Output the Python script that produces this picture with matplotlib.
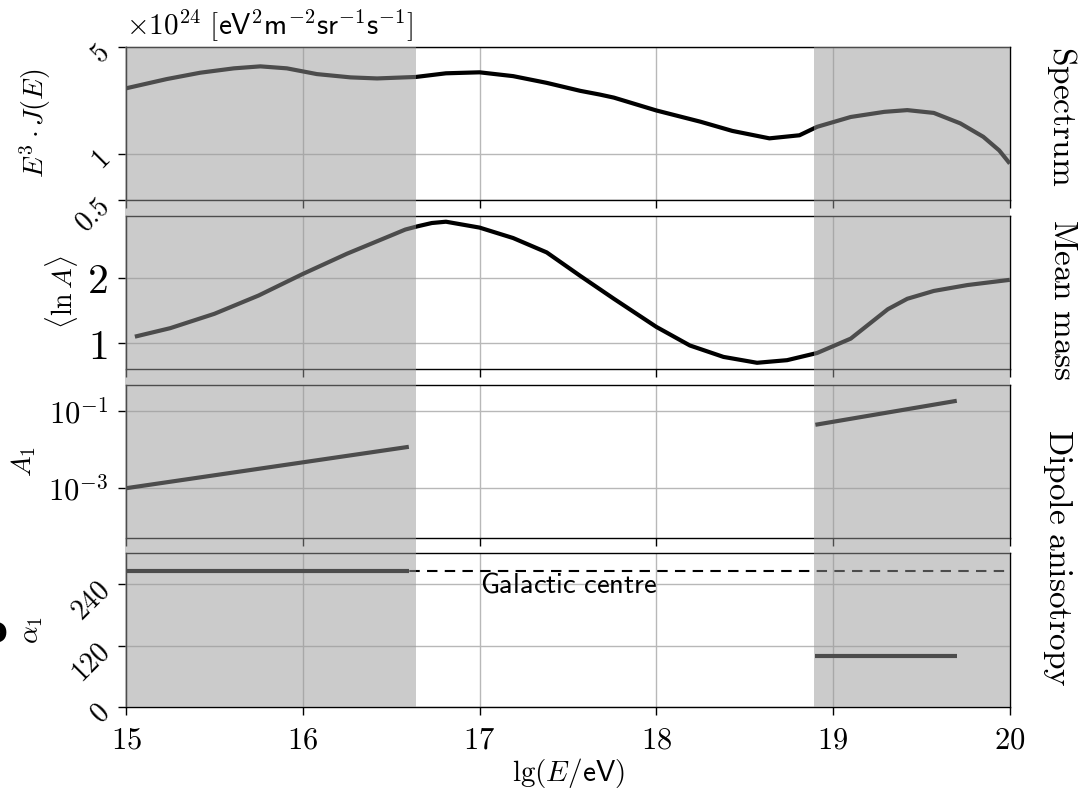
import numpy as np
import matplotlib.pyplot as plt
from matplotlib.patches import Rectangle
from matplotlib.ticker import NullLocator
from matplotlib.transforms import blended_transform_factory

plt.rcParams['mathtext.fontset'] = 'cm'
plt.rcParams['font.family'] = ['Liberation Sans', 'DejaVu Sans']

# =========================
# DATA
# =========================

# Spectrum E^3 J(E) in units of 1e24 eV^2 m^-2 sr^-1 s^-1
spec_lgE = [15.00, 15.23, 15.42, 15.61, 15.76, 15.91, 16.08, 16.27, 16.42, 16.64,
            16.81, 17.00, 17.19, 17.38, 17.57, 17.68, 17.76, 18.00, 18.25, 18.43,
            18.64, 18.81, 18.91, 19.10, 19.29, 19.42, 19.57, 19.72, 19.85, 19.94, 20.00]
spec_val = [2.69, 3.09, 3.40, 3.63, 3.74, 3.63, 3.33, 3.17, 3.12, 3.19,
            3.37, 3.42, 3.23, 2.92, 2.59, 2.45, 2.34, 1.93, 1.63, 1.42,
            1.27, 1.33, 1.51, 1.75, 1.89, 1.94, 1.86, 1.59, 1.30, 1.06, 0.87]

# Mean logarithmic mass <ln A>
lnA_lgE = [15.05, 15.25, 15.50, 15.75, 16.00, 16.25, 16.50, 16.58, 16.65, 16.73,
           16.81, 17.00, 17.19, 17.38, 17.57, 17.76, 18.00, 18.19, 18.38, 18.57,
           18.74, 18.91, 19.10, 19.31, 19.42, 19.57, 19.76, 20.00]
lnA_val = [1.10, 1.23, 1.45, 1.73, 2.06, 2.37, 2.65, 2.74, 2.79, 2.84,
           2.86, 2.77, 2.61, 2.39, 2.03, 1.68, 1.25, 0.965, 0.79, 0.70,
           0.74, 0.85, 1.07, 1.52, 1.68, 1.80, 1.89, 1.97]

# Dipole amplitude A1 (two energy ranges)
dip_low_lgE = [15.0, 16.6]
dip_low_amp = [1.0e-3, 1.2e-2]
dip_high_lgE = [18.9, 19.7]
dip_high_amp = [4.5e-2, 1.9e-1]

# Dipole phase alpha1 [deg]
phase_low_lgE = [15.0, 16.6]
phase_low_val = [266.4, 266.4]
phase_high_lgE = [18.9, 19.7]
phase_high_val = [100, 100]
galactic_centre = 266.4

# shaded energy ranges
shade_ranges = [(15.0, 16.64), (18.9, 20.0)]

# =========================
# FIGURE
# =========================

fig, axes = plt.subplots(4, 1, sharex=True, figsize=(10.8, 7.9), dpi=100)
fig.subplots_adjust(left=0.1167, right=0.935, top=0.9405, bottom=0.1051, hspace=0.1)
ax1, ax2, ax3, ax4 = axes

line_kw = dict(color="black", lw=3.0, solid_capstyle="butt", zorder=3)

ax1.plot(spec_lgE, spec_val, **line_kw)
ax1.set_yscale("log")
ax1.set_ylim(0.5, 5)
ax1.yaxis.set_minor_locator(NullLocator())
ax1.set_yticks([0.5, 1, 5], [r"$0.5$", r"$1$", r"$5$"])
for lab in ax1.get_yticklabels():
    lab.set_rotation(45)
    lab.set_rotation_mode("anchor")
    lab.set_fontsize(20)
ax1.set_ylabel(r"$E^3\cdot J(E)$", fontsize=20)
ax1.text(0.0, 1.025, r"$\times10^{24}\ [\mathsf{eV}^2\mathsf{m}^{-2}\mathsf{sr}^{-1}\mathsf{s}^{-1}]$",
         transform=ax1.transAxes, ha="left", va="bottom", fontsize=21)

ax2.plot(lnA_lgE, lnA_val, **line_kw)
ax2.set_ylim(0.6, 2.95)
ax2.set_yticks([1, 2], [r"$1$", r"$2$"])
ax2.tick_params(axis="y", labelsize=30)
ax2.set_ylabel(r"$\langle\ln A\rangle$", fontsize=20)

ax3.plot(dip_low_lgE, dip_low_amp, **line_kw)
ax3.plot(dip_high_lgE, dip_high_amp, **line_kw)
ax3.set_yscale("log")
ax3.set_ylim(5e-5, 0.5)
ax3.yaxis.set_minor_locator(NullLocator())
ax3.set_yticks([1e-3, 1e-1], [r"$10^{-3}$", r"$10^{-1}$"])
ax3.tick_params(axis="y", labelsize=22)
ax3.set_ylabel(r"$A_1$", fontsize=20)

ax4.axhline(galactic_centre, color="black", lw=1.5, dashes=(5, 3.5), zorder=2)
ax4.plot(phase_low_lgE, phase_low_val, **line_kw)
ax4.plot(phase_high_lgE, phase_high_val, **line_kw)
ax4.text(17.0, 238, r"$\mathsf{Galactic\ centre}$", ha="left", va="center", fontsize=20.5)
ax4.set_ylim(0, 300)
ax4.set_yticks([0, 120, 240], [r"$0$", r"$120$", r"$240$"])
for lab in ax4.get_yticklabels():
    lab.set_rotation(45)
    lab.set_rotation_mode("anchor")
    lab.set_fontsize(20)
ax4.set_ylabel(r"$\alpha_1$", fontsize=20)

ax4.set_xlim(15, 20)
ax4.set_xticks([15, 16, 17, 18, 19, 20], [r"$%d$" % v for v in range(15, 21)])
ax4.tick_params(axis="x", labelsize=22, pad=7)
ax4.set_xlabel(r"$\lg(E/\mathsf{eV})$", fontsize=21, labelpad=1)

for ax in axes:
    ax.grid(True, color="0.72", lw=1.0, zorder=0)
    ax.set_axisbelow(True)
    ax.tick_params(direction="out", length=6, width=1.0, color="black")
    ax.tick_params(axis="y", pad=7)
    for sp in ax.spines.values():
        sp.set_linewidth(1.0)
ax1.tick_params(axis="y", pad=10)
ax4.tick_params(axis="y", pad=10)

ax1.yaxis.set_label_coords(-0.083, 0.5)
ax2.yaxis.set_label_coords(-0.052, 0.5)
ax3.yaxis.set_label_coords(-0.10, 0.5)
ax4.yaxis.set_label_coords(-0.092, 0.5)

# right-hand panel titles
fig.text(1062 / 1080, 1 - 116 / 790, r"$\mathrm{Spectrum}$", rotation=-90,
         ha="center", va="center", fontsize=24)
fig.text(1062 / 1080, 1 - 300 / 790, r"$\mathrm{Mean\ mass}$", rotation=-90,
         ha="center", va="center", fontsize=24)
fig.text(1058 / 1080, 1 - 558 / 790, r"$\mathrm{Dipole\ anisotropy}$", rotation=-90,
         ha="center", va="center", fontsize=24)

# clipped glyph at the left edge
fig.text(7 / 1080, 1 - 642 / 790, "o", fontweight="bold", ha="right", va="baseline",
         fontsize=25, family="DejaVu Sans")

# grey overlay for the shaded energy ranges, spanning all panels
y0 = ax4.get_position().y0
y1 = ax1.get_position().y1
trans = blended_transform_factory(ax4.transData, fig.transFigure)
for lo, hi in shade_ranges:
    rect = Rectangle((lo - 0.008, y0), hi - lo + 0.008, y1 - y0, transform=trans,
                     facecolor="0.6", alpha=0.5, lw=0, zorder=5)
    fig.add_artist(rect)

plt.savefig("out.png", dpi=100)
